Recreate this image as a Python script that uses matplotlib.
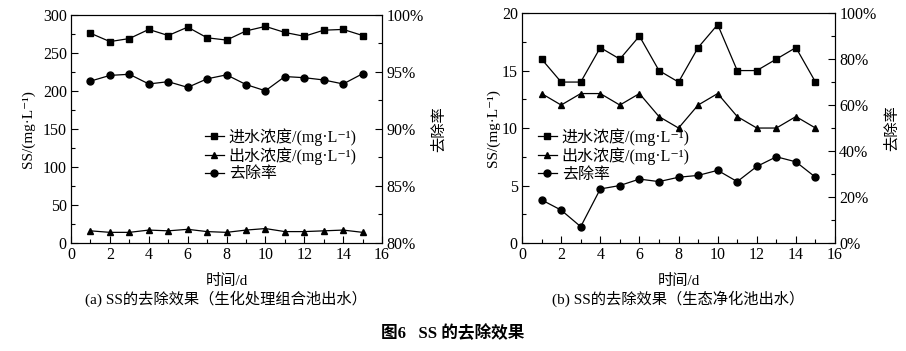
import numpy as np
import matplotlib
matplotlib.use('Agg')
import matplotlib.pyplot as plt
from matplotlib.ticker import MultipleLocator, FuncFormatter

plt.rcParams['font.family'] = ['Liberation Serif', 'Noto Sans CJK SC', 'DejaVu Sans']
plt.rcParams['font.size'] = 11

################################################################################
# data #
days = [1, 2, 3, 4, 5, 6, 7, 8, 9, 10, 11, 12, 13, 14, 15]

# (a) biochemical combined tank #
a_in = [276, 265, 269, 281, 273, 284, 270, 267, 279, 285, 277, 272, 280, 281, 273]
a_out = [16, 14, 14, 17, 16, 18, 15, 14, 17, 19, 15, 15, 16, 17, 14]
a_rate = [94.2, 94.7, 94.8, 93.95, 94.15, 93.65, 94.4, 94.75, 93.9, 93.35, 94.6, 94.5, 94.3, 93.95, 94.85]

# (b) ecological purification tank #
b_in = [16, 14, 14, 17, 16, 18, 15, 14, 17, 19, 15, 15, 16, 17, 14]
b_out = [13, 12, 13, 13, 12, 13, 11, 10, 12, 13, 11, 10, 10, 11, 10]
b_rate = [18.75, 14.3, 7.1, 23.5, 25.0, 27.8, 26.7, 28.6, 29.4, 31.6, 26.7, 33.3, 37.5, 35.3, 28.6]

lab_in = '进水浓度/(mg·L⁻¹)'
lab_out = '出水浓度/(mg·L⁻¹)'
lab_rate = '去除率'
ylab = 'SS/(mg·L⁻¹)'
xlab = '时间/d'
cap_a = '(a) SS的去除效果（生化处理组合池出水）'
cap_b = '(b) SS的去除效果（生态净化池出水）'
cap_main = '图6   SS 的去除效果'

################################################################################
# plot #
fig = plt.figure(figsize=(9.06, 3.51), dpi=100)

def panel(rect, y_in, y_out, y_rate, ylim, ymaj, ymin, rlim, rmaj, rmin, leg_xy, ypad):
  ax = fig.add_axes(rect)
  ax2 = ax.twinx()
  kw = dict(color='black', lw=0.9, markersize=5)
  l1, = ax.plot(days, y_in, marker='s', label=lab_in, **kw)
  l2, = ax.plot(days, y_out, marker='^', label=lab_out, **kw)
  l3, = ax2.plot(days, y_rate, marker='o', label=lab_rate, **kw)
  ax.set_xlim(0, 16)
  ax.set_ylim(*ylim)
  ax2.set_ylim(*rlim)
  ax.xaxis.set_major_locator(MultipleLocator(2))
  ax.xaxis.set_minor_locator(MultipleLocator(1))
  ax.yaxis.set_major_locator(MultipleLocator(ymaj))
  ax.yaxis.set_minor_locator(MultipleLocator(ymin))
  ax2.yaxis.set_major_locator(MultipleLocator(rmaj))
  ax2.yaxis.set_minor_locator(MultipleLocator(rmin))
  ax2.yaxis.set_major_formatter(FuncFormatter(lambda v, p: '%d%%' % round(v)))
  for a in (ax, ax2):
    a.tick_params(which='major', direction='in', length=5, width=0.8, labelsize=11.5, pad=3)
    a.tick_params(which='minor', direction='in', length=3, width=0.8)
  ax.tick_params(top=False, right=False, which='both')
  ax.set_ylabel(ylab, fontsize=11, labelpad=ypad)
  ax2.set_ylabel(lab_rate, fontsize=11, labelpad=6)
  ax.set_xlabel(xlab, fontsize=11, labelpad=8)
  ax2.legend(handles=[l1, l2, l3], loc='upper left', bbox_to_anchor=leg_xy,
             frameon=False, fontsize=11.5, borderpad=0, borderaxespad=0,
             handlelength=1.2, handletextpad=0.3, labelspacing=0.1)
  return ax

axa = panel([0.0784, 0.3077, 0.3433, 0.6496], a_in, a_out, a_rate,
            (0, 300), 50, 25, (80, 100), 5, 2.5, (0.43, 0.505), 6)
axb = panel([0.5762, 0.3077, 0.3455, 0.655], b_in, b_out, b_rate,
            (0, 20), 5, 2.5, (0, 100), 20, 10, (0.05, 0.5), 1)

fig.text(0.249, 0.148, cap_a, ha='center', va='center', fontsize=11)
fig.text(0.749, 0.148, cap_b, ha='center', va='center', fontsize=11)
fig.text(0.5, 0.05, cap_main, ha='center', va='center', fontsize=12, fontweight='bold')

fig.savefig('out.png', dpi=100)
